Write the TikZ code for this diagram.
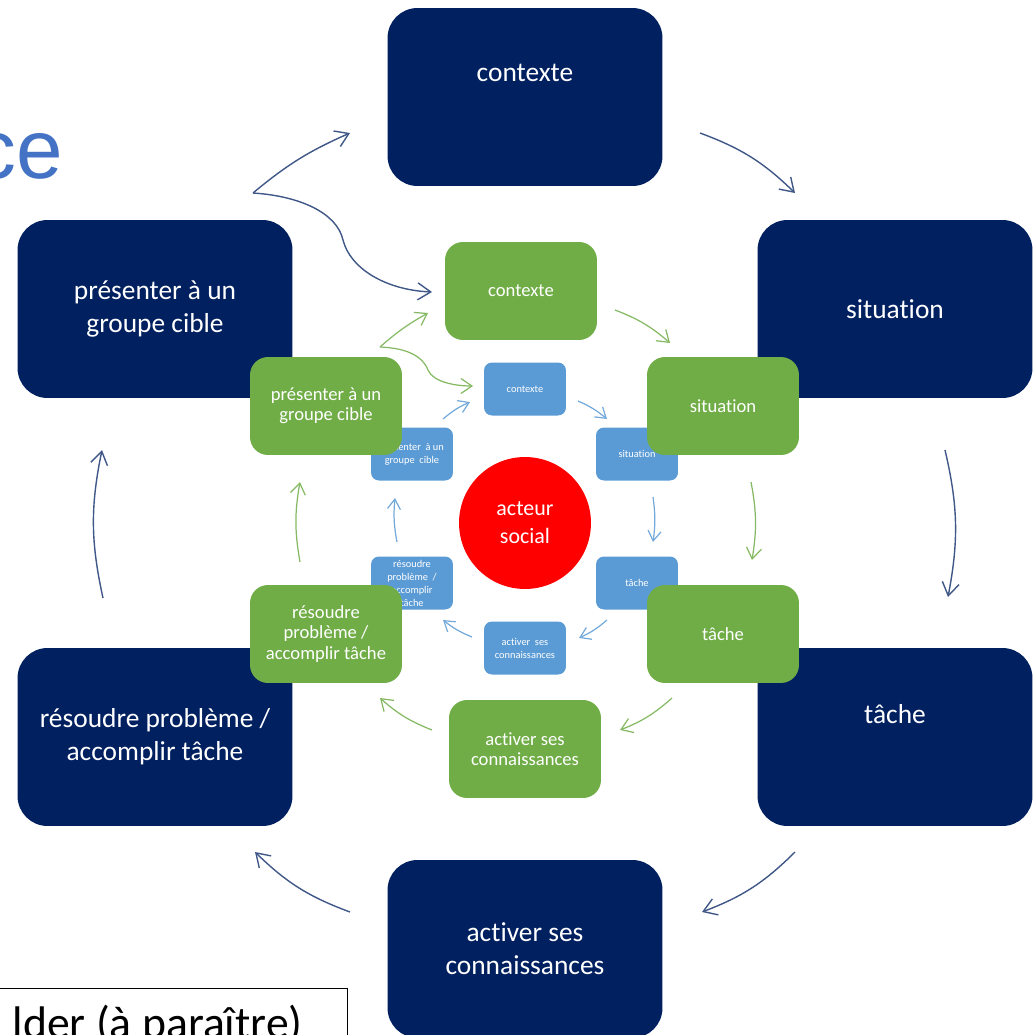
\documentclass[tikz,border=0pt]{standalone}
\usepackage{fontspec}
\setmainfont{Carlito}[Ligatures={TeX,NoCommon}]
\newfontfamily\titlefont{Liberation Sans}
\usetikzlibrary{arrows.meta}

\definecolor{navy}{HTML}{002060}
\definecolor{leafgreen}{HTML}{70AD47}
\definecolor{skyblue}{HTML}{5B9BD5}
\definecolor{titleblue}{HTML}{4472C4}

\tikzset{
  darkbox/.style={fill=navy, rounded corners=0.6cm, minimum width=5.5cm, minimum height=3.56cm, inner sep=0pt, text=white, align=center, font=\fontsize{15.6}{18.7}\selectfont},
  darktext/.style={text=white, align=center, inner sep=0pt, font=\fontsize{15.6}{18.7}\selectfont},
  greenbox/.style={fill=leafgreen, rounded corners=0.36cm, minimum width=3.04cm, minimum height=1.96cm, inner sep=0pt, text=white, align=center, font=\fontsize{10.6}{11.6}\selectfont},
  bluebox/.style={fill=skyblue, rounded corners=0.16cm, minimum width=1.64cm, minimum height=1.06cm, inner sep=0pt, text=white, align=center, font=\fontsize{5.9}{7.4}\selectfont},
  actorcircle/.style={circle, fill=red, minimum size=2.64cm, inner sep=0pt, text=white, align=center, font=\fontsize{12.5}{15.9}\selectfont},
  darkarrow/.style={draw=navy!75, line width=0.8pt, -{Straight Barb[length=0.26cm,width=0.34cm]}},
  greenarrow/.style={draw=leafgreen!85, line width=0.7pt, -{Straight Barb[length=0.22cm,width=0.3cm]}},
  bluearrow/.style={draw=skyblue!85, line width=0.7pt, -{Straight Barb[length=0.2cm,width=0.26cm]}}
}

\begin{document}
\begin{tikzpicture}[x=0.02cm, y=-0.02cm]
\useasboundingbox (0,0) rectangle (1036,1035);
\clip (0,0) rectangle (1036,1035);

% outer ring
\node[darkbox] (dctx) at (525,97) {};
\node[darktext] (dctxtext) at ([yshift=0.48cm]dctx.center) {contexte};
\node[darkbox] (dsit) at (895,309) {situation};
\node[darkbox] (dtac) at (895,737) {};
\node[darktext] (dtactext) at ([yshift=0.46cm]dtac.center) {tâche};
\node[darkbox] (dact) at (525,949) {activer ses\\connaissances};
\node[darkbox] (dres) at (155,737) {résoudre problème /\\accomplir tâche};
\node[darkbox] (dpre) at (155,309) {présenter à un\\groupe cible};

\foreach \a/\ax/\ay/\b/\bx/\by in {
  dctx/175/36/dsit/-100/-116,
  dsit/50/141/dtac/53/-140,
  dtac/-100/115/dact/177/-37,
  dact/-175/-37/dres/100/115,
  dres/-52/-139/dpre/-53/141}
  \draw[darkarrow] ([shift={(\ax,\ay)}]\a.center) to[bend left=12] ([shift={(\bx,\by)}]\b.center);

% inner ring
\node[bluebox] (bctx) at (525,389) {contexte};
\node[bluebox] (bsit) at (637,454) {situation};
\node[bluebox] (btac) at (637,583) {tâche};
\node[bluebox] (bact) at (525,648) {activer~ ses\\connaissances};
\node[bluebox] (bres) at (412,583) {résoudre\\problème~ /\\accomplir\\tâche};
\node[bluebox] (bpre) at (412,454) {présenter~ à un\\groupe~ cible};

% middle ring
\node[greenbox] (gctx) at (521,291) {contexte};
\node[greenbox] (gsit) at (723,406) {situation};
\node[greenbox] (gtac) at (723,634) {tâche};
\node[greenbox] (gact) at (525,749) {activer ses\\connaissances};
\node[greenbox] (gres) at (326,634) {résoudre\\problème /\\accomplir tâche};
\node[greenbox] (gpre) at (326,406) {présenter à un\\groupe cible};

\coordinate (dfork) at ([shift={(98,-116)}]dpre.center);
\draw[darkarrow] (dfork) to[bend left=8] ([shift={(-175,36)}]dctx.center);
\draw[darkarrow] (dfork) .. controls (300,196) and (337,213) .. (343,240)
  .. controls (350,268) and (385,290) .. ([shift={(-89,1)}]gctx.center);

\foreach \a/\ax/\ay/\b/\bx/\by in {
  gctx/94/19/gsit/-53/-63,
  gsit/28/76/gtac/29/-74,
  gtac/-51/64/gact/95/-19,
  gact/-93/-19/gres/54/64,
  gres/-26/-72/gpre/-26/76}
  \draw[greenarrow] ([shift={(\ax,\ay)}]\a.center) to[bend left=10] ([shift={(\bx,\by)}]\b.center);

\coordinate (gfork) at ([shift={(54,-59)}]gpre.center);
\draw[greenarrow] (gfork) to[bend left=6] ([shift={(-93,22)}]gctx.center);
\draw[greenarrow] (gfork) .. controls (405,348) and (422,355) .. (428,370)
  .. controls (433,382) and (455,386) .. ([shift={(-52,-3)}]bctx.center);

\foreach \a/\ax/\ay/\b/\bx/\by in {
  bpre/31/-35/bctx/-55/13,
  bctx/53/12/bsit/-30/-35,
  bsit/16/43/btac/16/-41,
  btac/-30/37/bact/54/-10,
  bact/-53/-11/bres/31/37,
  bres/-15/-41/bpre/-17/44}
  \draw[bluearrow] ([shift={(\ax,\ay)}]\a.center) to[bend left=8] ([shift={(\bx,\by)}]\b.center);

\node[actorcircle] (actor) at (525,523) {acteur\\social};

% slide leftovers
\node[anchor=base east, inner sep=0pt, text=titleblue, font=\titlefont\fontsize{47.6}{50}\selectfont] (title) at (63,178) {ce};
\node[draw=black, line width=0.8pt, anchor=north east, minimum width=7.2cm, minimum height=1.6cm, inner sep=0pt] (refbox) at (348,988) {};
\node[anchor=base east, inner sep=0pt, font=\fontsize{26}{30}\selectfont] (reftext) at (303,1038) {lder (à paraître)};
\end{tikzpicture}
\end{document}
